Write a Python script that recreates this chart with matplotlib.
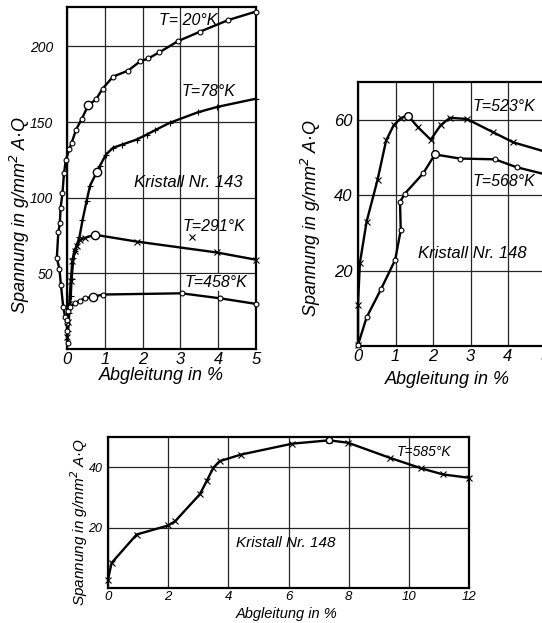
import numpy as np
import matplotlib.pyplot as plt

W, H = 542, 623

plt.rcParams['font.family'] = ['Liberation Sans', 'DejaVu Sans']
plt.rcParams['font.style'] = 'italic'

# --- Kristall Nr. 143 (top left) ---
t20_x = [0.0, -0.05, -0.1, -0.16, -0.2, -0.27, -0.23, -0.19, -0.17, -0.12, -0.08, -0.03, 0.06, 0.12, 0.24,
         0.39, 0.56, 0.77, 0.94, 1.22, 1.62, 1.93, 2.15, 2.44, 2.94, 3.52, 4.27, 5.0]
t20_y = [17, 21, 28, 42, 53, 60, 77, 83, 93, 103, 116, 125, 132, 136, 145,
         152, 161, 165, 172, 180, 184, 190, 192, 196, 203.5, 209.7, 217.4, 223]
t78_x = [0.03, 0.06, 0.1, 0.12, 0.17, 0.21, 0.33, 0.41, 0.52, 0.61, 0.79, 0.87, 1.03, 1.22, 1.45,
         1.84, 2.11, 2.33, 2.72, 3.47, 3.98, 5.0]
t78_y = [12, 24, 35, 46, 60, 65, 74, 85, 98, 108, 117, 121, 128.5, 133, 135,
         138.4, 141.7, 144.6, 149.5, 156.5, 160, 165.4]
t291_x = [0.0, 0.03, 0.06, 0.1, 0.14, 0.2, 0.26, 0.34, 0.48, 0.74, 1.84, 3.96, 5.0]
t291_y = [8, 18, 30, 45, 58, 65, 68, 72, 73.5, 75.5, 71, 63.8, 59]
t291_stray = ([3.32], [74])
t458_x = [0.02, 0.0, 0.0, 0.03, 0.08, 0.21, 0.34, 0.48, 0.7, 0.96, 3.03, 4.05, 5.0]
t458_y = [4, 12, 19, 25, 28, 30.2, 32, 33.5, 34.6, 36, 36.8, 33.5, 29.8]

# --- Kristall Nr. 148 (top right) ---
t523_x = [0.0, 0.0, 0.05, 0.23, 0.52, 0.75, 0.95, 1.15, 1.34, 1.6, 1.94, 2.2, 2.45, 2.9, 3.6, 4.14, 5.0]
t523_y = [0.3, 11, 22, 33, 44, 54.5, 58.5, 60.5, 61, 58, 54.7, 58.5, 60.5, 60.2, 56.7, 54, 51.5]
t568_x = [0.0, 0.23, 0.61, 0.99, 1.14, 1.12, 1.25, 1.74, 2.05, 2.72, 3.65, 4.23, 5.0]
t568_y = [0.3, 7.6, 15, 22.8, 30.7, 38.2, 40.4, 45.8, 50.8, 49.7, 49.5, 47.4, 45.5]

# --- Kristall Nr. 148, T=585 K (bottom) ---
t585_x = [0.0, 0.12, 0.95, 2.0, 2.23, 3.05, 3.28, 3.5, 3.71, 4.43, 6.13, 7.35, 7.98, 9.37, 10.42, 11.14, 12.0]
t585_y = [2.8, 8.3, 17.7, 20.7, 22.1, 31, 35.4, 39.8, 42, 44.2, 47.8, 48.9, 48.1, 43.1, 39.6, 37.6, 36.5]

ylabel = 'Spannung in g/mm$^2$ A·Q'
xlabel = 'Abgleitung in %'

fig = plt.figure(figsize=(W / 100, H / 100), dpi=100)


def make_axes(px_left, px_right, px_top, px_bottom):
    ax = fig.add_axes([px_left / W, 1 - px_bottom / H, (px_right - px_left) / W, (px_bottom - px_top) / H])
    for s in ax.spines.values():
        s.set_linewidth(1.6)
    ax.grid(True, color='0.15', lw=0.9)
    ax.set_axisbelow(True)
    ax.tick_params(length=0)
    return ax


def curve(ax, x, y, marker, ms=4):
    ax.plot(x, y, color='black', lw=1.7, clip_on=False, zorder=3)
    ax.plot(x, y, ls='none', marker=marker, ms=ms, mfc='white', mec='black', mew=0.8,
            clip_on=False, zorder=4)


# top left
ax1 = make_axes(67, 256, 7, 349)
ax1.set_xlim(0, 5)
ax1.set_ylim(0, 226)
ax1.set_xticks([0, 1, 2, 3, 4, 5])
ax1.set_yticks([50, 100, 150, 200])
ax1.tick_params(axis='x', labelsize=12, pad=2)
ax1.tick_params(axis='y', labelsize=10, pad=10)
curve(ax1, t20_x, t20_y, 'o', ms=3.5)
curve(ax1, t78_x, t78_y, '+', ms=5)
curve(ax1, t291_x, t291_y, 'x', ms=4)
curve(ax1, t458_x, t458_y, 'o', ms=3.5)
ax1.plot(*t291_stray, ls='none', marker='x', ms=4, color='black', mew=0.8)
for bx, by in [(0.56, 161), (0.79, 117), (0.74, 75.5), (0.7, 34.6)]:
    ax1.plot(bx, by, marker='o', ms=6, mfc='white', mec='black', mew=1.0, zorder=5)
ax1.text(3.2, 217, 'T= 20°K', fontsize=11.5, ha='center', va='center')
ax1.text(3.75, 170, 'T=78°K', fontsize=11.5, ha='center', va='center')
ax1.text(3.2, 110, 'Kristall Nr. 143', fontsize=12, ha='center', va='center')
ax1.text(3.9, 81, 'T=291°K', fontsize=11.5, ha='center', va='center')
ax1.text(3.95, 44, 'T=458°K', fontsize=11.5, ha='center', va='center',
         bbox=dict(fc='white', ec='none', pad=0.5))
fig.text(20 / W, 1 - 215 / H, ylabel, rotation=90, fontsize=13, ha='center', va='center')
fig.text(161 / W, 1 - 376 / H, xlabel, fontsize=13, ha='center', va='center')

# top right (cut off at the figure edge)
ax2 = make_axes(358, 545.5, 82, 346)
ax2.set_xlim(0, 5)
ax2.set_ylim(0, 70)
ax2.set_xticks([0, 1, 2, 3, 4, 5])
ax2.set_yticks([20, 40, 60])
ax2.tick_params(axis='x', labelsize=12, pad=2)
ax2.tick_params(axis='y', labelsize=12, pad=4)
curve(ax2, t523_x, t523_y, 'x', ms=4)
curve(ax2, t568_x, t568_y, 'o', ms=3.5)
for bx, by in [(1.34, 61), (2.05, 50.8)]:
    ax2.plot(bx, by, marker='o', ms=5.5, mfc='white', mec='black', mew=1.0, zorder=5)
ax2.text(3.9, 63.5, 'T=523°K', fontsize=11.5, ha='center', va='center')
ax2.text(3.9, 43.5, 'T=568°K', fontsize=11.5, ha='center', va='center')
ax2.text(3.05, 24.5, 'Kristall Nr. 148', fontsize=12, ha='center', va='center')
fig.text(311 / W, 1 - 218 / H, ylabel, rotation=90, fontsize=13, ha='center', va='center')
fig.text(447 / W, 1 - 380 / H, xlabel, fontsize=13, ha='center', va='center')

# bottom
ax3 = make_axes(108, 469, 437, 588)
ax3.set_xlim(0, 12)
ax3.set_ylim(0, 50)
ax3.set_xticks([0, 2, 4, 6, 8, 10, 12])
ax3.set_yticks([20, 40])
ax3.tick_params(axis='x', labelsize=9.5, pad=2)
ax3.tick_params(axis='y', labelsize=9, pad=4)
curve(ax3, t585_x, t585_y, 'x', ms=4)
ax3.plot(7.35, 48.9, marker='o', ms=4.5, mfc='white', mec='black', mew=1.0, zorder=5)
ax3.text(10.5, 45, 'T=585°K', fontsize=10, ha='center', va='center')
ax3.text(5.9, 15, 'Kristall Nr. 148', fontsize=11, ha='center', va='center')
fig.text(79 / W, 1 - 522 / H, ylabel, rotation=90, fontsize=11, ha='center', va='center')
fig.text(287 / W, 1 - 614 / H, xlabel, fontsize=10.5, ha='center', va='center')

fig.savefig('out.png', dpi=100)
